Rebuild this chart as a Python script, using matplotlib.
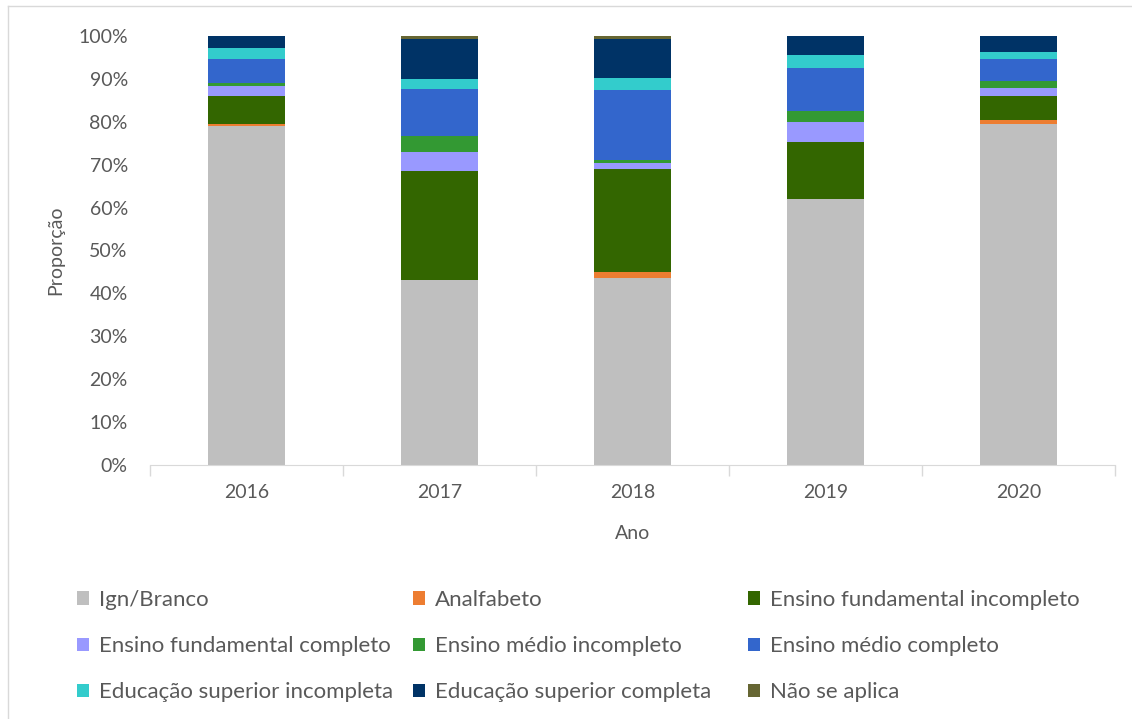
import numpy as np
import matplotlib
import matplotlib.pyplot as plt
from matplotlib.patches import Patch

matplotlib.rc("font", family=["Lato", "DejaVu Sans"], size=14)

anos = ["2016", "2017", "2018", "2019", "2020"]
categorias = ["Ign/Branco", "Analfabeto", "Ensino fundamental incompleto",
              "Ensino fundamental completo", "Ensino médio incompleto",
              "Ensino médio completo", "Educação superior incompleta",
              "Educação superior completa", "Não se aplica"]
cores = ["#BFBFBF", "#ED7D31", "#336600", "#9999FF", "#339933",
         "#3366CC", "#33CCCC", "#003366", "#666633"]

# proporção (%) por ano
ign_branco = [79.0, 43.0, 43.6, 62.0, 79.5]
analfabeto = [0.5, 0.0, 1.4, 0.0, 0.8]
fund_incompleto = [6.5, 25.6, 24.0, 13.2, 5.8]
fund_completo = [2.3, 4.4, 1.5, 4.7, 1.7]
medio_incompleto = [0.8, 3.7, 0.7, 2.7, 1.6]
medio_completo = [5.5, 10.9, 16.1, 10.0, 5.3]
sup_incompleta = [2.5, 2.3, 2.8, 2.9, 1.6]
sup_completa = [2.9, 9.5, 9.3, 4.5, 3.7]
nao_se_aplica = [0.0, 0.6, 0.6, 0.0, 0.0]

series = [ign_branco, analfabeto, fund_incompleto, fund_completo, medio_incompleto,
          medio_completo, sup_incompleta, sup_completa, nao_se_aplica]

fig = plt.figure(figsize=(11.32, 7.19), dpi=100)
ax = fig.add_axes([0.1325, 0.3533, 0.8525, 0.5967])

x = np.arange(len(anos))
base = np.zeros(len(anos))
for vals, cor, nome in zip(series, cores, categorias):
    v = np.array(vals) / 100
    ax.bar(x, v, width=0.4, bottom=base, color=cor, linewidth=0, label=nome)
    base += v

cinza = "#595959"
ax.set_xlim(-0.5, 4.5)
ax.set_ylim(0, 1)
ax.set_yticks(np.arange(0, 1.01, 0.1))
ax.set_yticklabels([f"{int(round(t*100))}%" for t in np.arange(0, 1.01, 0.1)])
ax.set_xticks(x)
ax.set_xticklabels(anos)
ax.set_xticks(np.arange(-0.5, 4.6, 1), minor=True)
ax.tick_params(axis="y", length=0, pad=16, colors=cinza, labelsize=14)
ax.tick_params(axis="x", which="major", length=0, pad=14, colors=cinza, labelsize=14)
ax.tick_params(axis="x", which="minor", length=8, color="#D9D9D9", width=1)
for s in ["left", "right", "top"]:
    ax.spines[s].set_visible(False)
ax.spines["bottom"].set_color("#D9D9D9")

ax.set_ylabel("Proporção", color=cinza, fontsize=14, labelpad=10)
ax.set_xlabel("Ano", color=cinza, fontsize=14, labelpad=17)

# legenda em três colunas, preenchida por linhas
col_x = [77/1132, 413/1132, 748/1132]
for c in range(3):
    hs = [Patch(facecolor=cores[i], label=categorias[i]) for i in range(c, 9, 3)]
    fig.legend(handles=hs, loc="upper left", bbox_to_anchor=(col_x[c], 1 - 590/719),
               frameon=False, fontsize=16, labelcolor=cinza, handlelength=0.55,
               handleheight=0.55, handletextpad=0.45, labelspacing=1.18,
               borderpad=0, borderaxespad=0)

# moldura do gráfico
fig.add_artist(plt.Line2D([8/1132, 1], [1 - 6/719, 1 - 6/719], color="#D9D9D9", lw=1))
fig.add_artist(plt.Line2D([8/1132, 8/1132], [0, 1 - 6/719], color="#D9D9D9", lw=1))

fig.savefig("out.png", dpi=100)
